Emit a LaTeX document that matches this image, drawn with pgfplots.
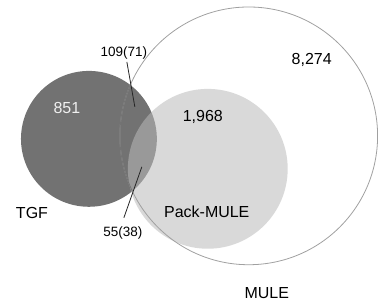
\documentclass[border=0pt]{standalone}
\usepackage{pgfplots}
\pgfplotsset{compat=1.18}
\usepackage{fontspec}
\setmainfont{Liberation Sans}
\definecolor{tgf}{RGB}{114,114,114}
\definecolor{pack}{RGB}{186,186,186}
\definecolor{mule}{RGB}{160,160,160}
\begin{document}
\begin{tikzpicture}
\begin{axis}[
  width=378pt, height=303pt, scale only axis,
  xmin=0, xmax=378, ymin=0, ymax=303, y dir=reverse,
  hide axis, clip=false,
]
\path (axis cs:0,0) rectangle (axis cs:378,303);
% TGF
\fill[tgf] (axis cs:89,139) circle [radius=68];
% Pack-MULE
\fill[pack, opacity=0.55] (axis cs:208,169) circle [radius=80];
% MULE
\draw[mule, line width=0.8pt] (axis cs:249,136) circle [radius=129];
\begin{scope}
\clip (axis cs:89,139) circle [radius=68];
\draw[black!55, line width=0.8pt] (axis cs:249,136) circle [radius=129];
\end{scope}
% leader lines
\draw[black!85, line width=0.8pt] (axis cs:127,62) -- (axis cs:135,107);
\draw[black!85, line width=0.8pt] (axis cs:124,218) -- (axis cs:142,167);
% labels
\node[font=\fontsize{13.5}{15}\selectfont] at (axis cs:124,53) {109(71)};
\node[font=\fontsize{13.5}{15}\selectfont] at (axis cs:123,233) {55(38)};
\node[font=\fontsize{16}{18}\selectfont, black!6] at (axis cs:67,108) {851};
\node[font=\fontsize{16}{18}\selectfont] at (axis cs:203,117) {1,968};
\node[font=\fontsize{16}{18}\selectfont] at (axis cs:312,60) {8,274};
\node[font=\fontsize{16}{18}\selectfont] at (axis cs:32,213) {TGF};
\node[font=\fontsize{16}{18}\selectfont] at (axis cs:207,212) {Pack-MULE};
\node[font=\fontsize{16}{18}\selectfont] at (axis cs:267,293) {MULE};
\end{axis}
\end{tikzpicture}
\end{document}
